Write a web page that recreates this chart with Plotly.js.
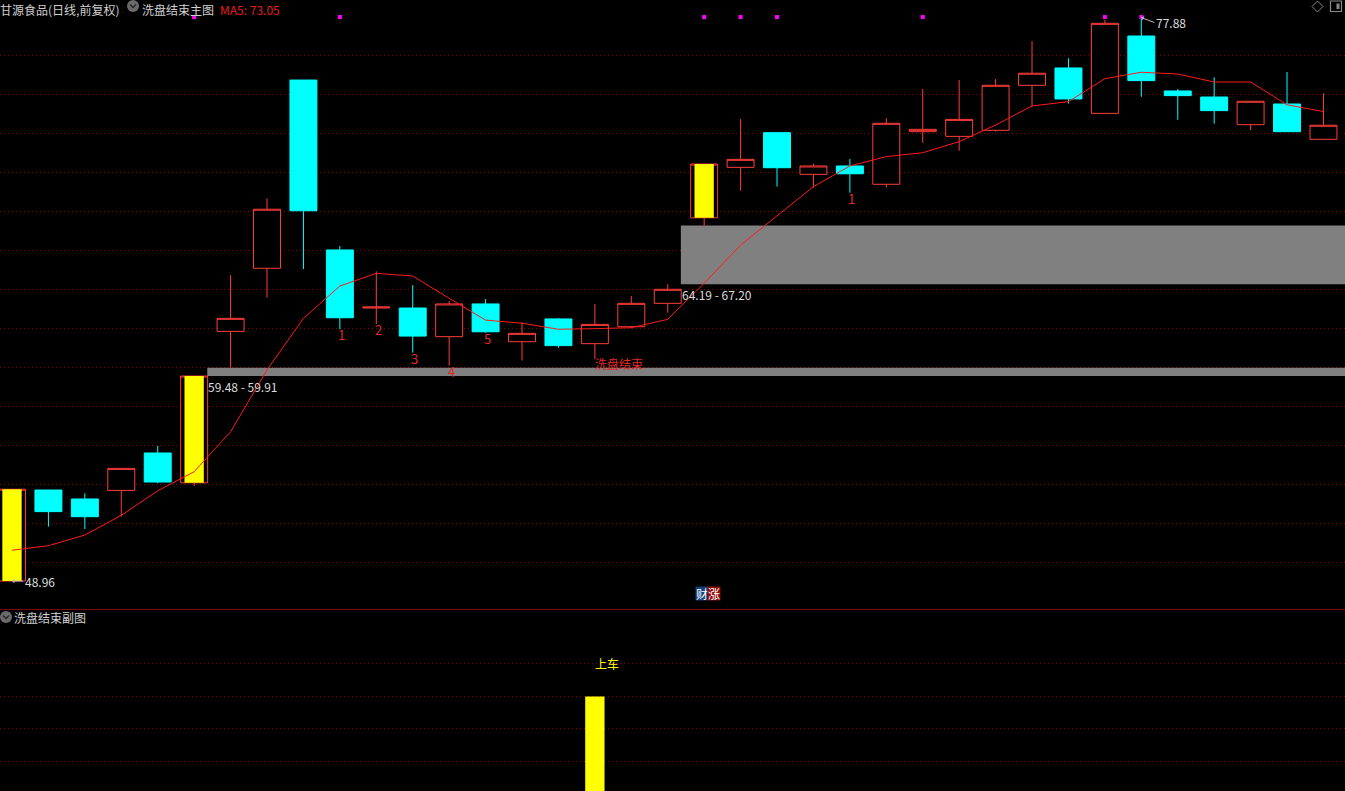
<!DOCTYPE html>
<html><head><meta charset="utf-8">
<script src="https://cdn.plot.ly/plotly-3.0.1.min.js"></script>
<style>html,body{margin:0;padding:0;background:#000;overflow:hidden}#chart{width:1345px;height:791px}</style>
</head><body><div id="chart"></div>
<script>
// ---------- data ----------
const days  = [0,1,2,3,4,5,6,7,8,9,10,11,12,13,14,15,16,17,18,19,20,21,22,23,24,25,26,27,28,29,30,31,32,33,34,35,36];
const open  = [48.96,53.63,53.17,53.61,55.53,54.00,61.77,65.01,74.67,65.95,62.97,62.97,61.50,63.18,61.24,62.41,61.14,62.01,63.21,67.60,70.19,71.97,69.83,70.26,69.32,72.02,71.78,72.09,74.40,75.29,72.96,76.93,74.11,73.80,72.38,73.44,71.63];
const high  = [53.67,53.63,53.46,54.74,55.89,59.48,64.66,68.60,74.67,66.15,64.85,64.15,63.33,63.43,62.24,62.46,63.18,63.59,64.19,70.36,72.67,71.97,70.38,70.62,72.71,74.21,74.67,74.72,76.67,75.79,77.75,77.88,74.21,74.81,73.58,75.08,73.99];
const low   = [48.96,51.75,51.63,52.26,53.97,53.84,59.91,63.50,64.97,61.88,62.15,60.68,60.01,61.70,60.27,60.93,60.35,61.93,62.73,67.20,68.99,69.20,69.14,68.89,69.16,71.45,71.04,72.02,73.30,73.46,72.96,73.81,72.63,72.43,72.09,72.02,71.63];
const close = [53.67,52.52,52.26,54.74,54.04,59.48,62.44,68.04,67.96,62.47,63.02,61.53,63.18,61.75,61.67,61.04,62.13,63.21,63.93,70.36,70.60,70.17,70.26,69.86,72.45,72.14,72.65,74.40,75.02,73.70,77.58,74.64,73.87,73.10,73.58,72.02,72.35];
const ma5   = [50.54,50.77,51.32,52.33,53.59,54.57,56.62,59.79,62.44,64.10,64.75,64.61,63.47,62.35,62.19,61.88,61.91,61.96,62.39,64.24,66.20,67.69,69.20,70.26,70.74,70.94,71.51,72.36,73.34,73.56,74.74,75.07,74.98,74.57,74.57,73.40,73.05];

const yellowIdx  = [0,5,19];                 // highlighted (yellow) candles
const signalIdx  = [5,9,19,20,21,25,30,31];  // magenta top markers
const countIdx   = [9,10,11,12,13,23];
const countText  = ['1','2','3','4','5','1'];
const washEndIdx = 16;
const washEndText = '洗盘结束';
const gapIdx  = [5,18];
const gapLow  = [59.48,64.19];
const gapHigh = [59.91,67.20];
const subBarIdx = [16];
const subBarVal = [3];
const subLabelText = '上车';
const subLabelVal = 4;
const highIdx = 31, highVal = 77.88;
const lowIdx = 0, lowVal = 48.96;
const titleStock = '甘源食品(日线,前复权)';
const titleMain = '洗盘结束主图';
const titleSub = '洗盘结束副图';
const ma5Label = 'MA5: 73.05';

// ---------- layout helpers ----------
const W = 1345, H = 791;
const px = x => x / W, py = y => 1 - y / H;
const xMin = -0.3294, xMax = 36.591;
const FONT = 'Noto Sans CJK SC, Noto Sans, sans-serif';
const RED = '#ff3c3c';

const gridMain = [];
for (let v = 49.93; v < 76.5; v += 2) gridMain.push(+v.toFixed(2));

const traces = [];
traces.push({
  type: 'candlestick', x: days, open, high, low, close,
  xaxis: 'x', yaxis: 'y', whiskerwidth: 0, hoverinfo: 'skip',
  increasing: {line: {color: RED, width: 1}, fillcolor: '#000000'},
  decreasing: {line: {color: '#00ffff', width: 1}, fillcolor: '#00ffff'}
});
const yw = 0.265;
yellowIdx.forEach(i => {
  traces.push({
    type: 'scatter', mode: 'lines', fill: 'toself', fillcolor: '#ffff00',
    x: [i - yw, i + yw, i + yw, i - yw, i - yw],
    y: [open[i], open[i], close[i], close[i], open[i]],
    line: {width: 0, color: 'rgba(0,0,0,0)'}, hoverinfo: 'skip', xaxis: 'x', yaxis: 'y'
  });
});
traces.push({
  type: 'scatter', mode: 'lines', x: days, y: ma5,
  line: {color: '#ff1a1a', width: 1}, hoverinfo: 'skip', xaxis: 'x', yaxis: 'y'
});
traces.push({
  type: 'scatter', mode: 'markers', x: signalIdx, y: signalIdx.map(() => 0.972),
  marker: {symbol: 'square', size: 4, color: '#ff00ff', line: {width: 0}},
  hoverinfo: 'skip', xaxis: 'x', yaxis: 'y3'
});
traces.push({
  type: 'bar', x: subBarIdx, y: subBarVal, base: 0, width: 0.53,
  marker: {color: '#ffff00', line: {width: 0}}, hoverinfo: 'skip', xaxis: 'x', yaxis: 'y2'
});

// ---------- shapes ----------
const shapes = [];
gapIdx.forEach((g, k) => {
  shapes.push({type: 'rect', xref: 'x', yref: 'y', x0: g + 0.36, x1: xMax,
    y0: gapLow[k], y1: gapHigh[k], fillcolor: '#808080', line: {width: 0}, layer: 'between'});
});
// separator between panels
shapes.push({type: 'line', xref: 'paper', yref: 'paper', x0: 0, x1: 1, y0: py(609.5), y1: py(609.5),
  line: {color: '#800000', width: 1}});
// header icons
function circleIcon(cx, cy) {
  shapes.push({type: 'circle', xref: 'paper', yref: 'paper', x0: px(cx - 6), x1: px(cx + 6),
    y0: py(cy + 6), y1: py(cy - 6), fillcolor: '#6a6a6a', line: {width: 0}});
  shapes.push({type: 'path', xref: 'paper', yref: 'paper',
    path: `M${px(cx - 3)},${py(cy - 1.5)} L${px(cx)},${py(cy + 1.5)} L${px(cx + 3)},${py(cy - 1.5)}`,
    line: {color: '#222', width: 1.3}});
}
circleIcon(133, 6);
circleIcon(6, 617);
shapes.push({type: 'path', xref: 'paper', yref: 'paper',
  path: `M${px(1312)},${py(6.5)} L${px(1317.5)},${py(1)} L${px(1323)},${py(6.5)} L${px(1317.5)},${py(12)} Z`,
  line: {color: '#8a8a8a', width: 1}});
shapes.push({type: 'rect', xref: 'paper', yref: 'paper', x0: px(1330.5), x1: px(1341.5), y0: py(11.5), y1: py(1),
  line: {color: '#8a8a8a', width: 1.2}});
shapes.push({type: 'rect', xref: 'paper', yref: 'paper', x0: px(1336.5), x1: px(1339.5), y0: py(9), y1: py(3.5),
  fillcolor: '#8a8a8a', line: {width: 0}});

// ---------- annotations ----------
const ann = [];
const hdr = (text, x, y, color, anchor) => ann.push({xref: 'paper', yref: 'paper', x: px(x), y: py(y),
  xanchor: 'left', yanchor: anchor, borderpad: 0, text, showarrow: false, font: {family: FONT, size: 12, color}});
hdr(titleStock, -1, 0, '#d0d0d0', 'top');
hdr(titleMain, 141, 0, '#d0d0d0', 'top');
hdr(ma5Label, 219, 0, '#e81c1c', 'top');
hdr(titleSub, 13, 617, '#d0d0d0', 'middle');

ann.push({xref: 'paper', yref: 'paper', x: px(702), y: py(601), text: '财', showarrow: false,
  bgcolor: '#143f78', borderpad: 0, width: 12, height: 13, font: {family: FONT, size: 12, color: '#ffffff'}});
ann.push({xref: 'paper', yref: 'paper', x: px(714), y: py(601), text: '涨', showarrow: false,
  bgcolor: '#8c0c0c', borderpad: 0, width: 12, height: 13, font: {family: FONT, size: 12, color: '#ffffff'}});

countIdx.forEach((i, k) => ann.push({xref: 'x', yref: 'y', x: i, y: low[i], text: countText[k],
  showarrow: false, xanchor: 'center', yanchor: 'top', xshift: 2, yshift: 6,
  font: {family: FONT, size: 13, color: '#e02828'}}));
ann.push({xref: 'x', yref: 'y', x: washEndIdx, y: low[washEndIdx], text: washEndText, showarrow: false,
  xanchor: 'left', yanchor: 'top', xshift: -2, yshift: 6, font: {family: FONT, size: 12, color: '#e02828'}});

gapIdx.forEach((g, k) => ann.push({xref: 'x', yref: 'y', x: g + 0.36, y: gapLow[k],
  text: gapLow[k].toFixed(2) + ' - ' + gapHigh[k].toFixed(2), showarrow: false,
  xanchor: 'left', yanchor: 'top', xshift: -1, yshift: 0, font: {family: FONT, size: 12, color: '#dcdcdc'}}));

ann.push({xref: 'x', yref: 'y', x: lowIdx, y: lowVal, text: lowVal.toFixed(2), showarrow: true,
  ax: 11, ay: 0, xanchor: 'left', yanchor: 'middle', arrowhead: 1, arrowsize: 0.8, arrowwidth: 1,
  arrowcolor: '#bbbbbb', standoff: 0, font: {family: FONT, size: 12, color: '#dcdcdc'}});
ann.push({xref: 'x', yref: 'y', x: highIdx, y: highVal, text: highVal.toFixed(2), showarrow: true,
  ax: 13, ay: 5, xanchor: 'left', yanchor: 'middle', arrowhead: 1, arrowsize: 0.8, arrowwidth: 1,
  arrowcolor: '#bbbbbb', standoff: 0, font: {family: FONT, size: 12, color: '#dcdcdc'}});

ann.push({xref: 'x', yref: 'y2', x: subBarIdx[0], y: subLabelVal, text: subLabelText, showarrow: false,
  xanchor: 'left', yanchor: 'middle', xshift: -2, font: {family: FONT, size: 12, color: '#ffff00'}});

const layout = {
  width: W, height: H, margin: {l: 0, r: 0, t: 0, b: 0, pad: 0},
  paper_bgcolor: '#000', plot_bgcolor: '#000', showlegend: false, hovermode: false,
  font: {family: FONT, size: 12, color: '#d0d0d0'},
  boxgap: 0.26, boxgroupgap: 0,
  xaxis: {range: [xMin, xMax], showgrid: false, zeroline: false, showticklabels: false, ticks: '',
    showline: false, rangeslider: {visible: false}, fixedrange: true},
  yaxis: {domain: [(H - 609) / H, 1], range: [47.523, 78.778], tickvals: gridMain, showticklabels: false,
    ticks: '', gridcolor: '#8b0000', griddash: '1px,3px', gridwidth: 1, zeroline: false, showline: false, fixedrange: true},
  yaxis2: {domain: [0, (H - 610) / H], range: [0.083, 5.665], tickvals: [1, 2, 3, 4], showticklabels: false,
    ticks: '', gridcolor: '#8b0000', griddash: '1px,3px', gridwidth: 1, zeroline: false, showline: false, fixedrange: true},
  yaxis3: {overlaying: 'y', range: [0, 1], visible: false, fixedrange: true},
  shapes, annotations: ann
};
Plotly.newPlot('chart', traces, layout, {displayModeBar: false, staticPlot: true});
</script></body></html>
